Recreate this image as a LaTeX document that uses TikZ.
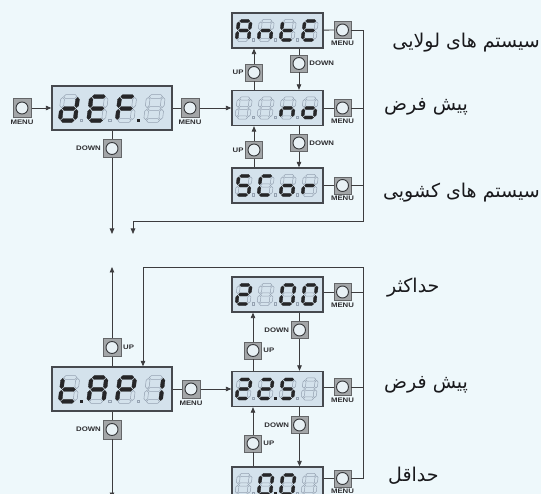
\documentclass[tikz,border=0pt]{standalone}
\usepackage{fontspec}
\setmainfont{Liberation Sans}
\newfontfamily\lblfont[FakeStretch=1.18]{Liberation Sans}
\newfontfamily\arabicfont[Script=Arabic]{DejaVu Sans}
\TeXXeTstate=1
\usetikzlibrary{arrows.meta,calc,positioning}

\definecolor{bgc}{RGB}{238,248,251}
\definecolor{dispfill}{RGB}{212,226,236}
\definecolor{displine}{RGB}{70,73,78}
\definecolor{ghostc}{RGB}{150,163,178}
\definecolor{litc}{RGB}{38,38,40}
\definecolor{btnfill}{RGB}{163,166,168}
\definecolor{btnline}{RGB}{100,102,104}
\definecolor{circfill}{RGB}{232,241,245}
\definecolor{circline}{RGB}{55,57,60}
\definecolor{linec}{RGB}{60,60,62}
\definecolor{lblc}{RGB}{45,45,48}
\definecolor{textc}{RGB}{25,25,28}

\tikzset{
  disp/.style={draw=displine, fill=dispfill, line width=1.3pt, minimum width=91pt, minimum height=35pt, inner sep=0pt},
  bigdisp/.style={disp, minimum width=120pt, minimum height=44pt},
  btn/.style={draw=btnline, fill=btnfill, line width=0.5pt, minimum size=17pt, inner sep=0pt,
    path picture={\draw[draw=circline, fill=circfill, line width=0.9pt] (path picture bounding box.center) circle (6pt);}},
  bigbtn/.style={btn, minimum size=18.5pt},
  lbl/.style={font=\lblfont\bfseries\fontsize{6.6}{7}\selectfont, text=lblc, inner sep=0pt},
  conn/.style={draw=linec, line width=0.8pt},
  arr/.style={conn, -{Triangle[length=5.5pt,width=4.5pt]}},
  per/.style={font=\arabicfont\fontsize{19}{21}\selectfont, text=textc, inner sep=0pt},
  ghostseg/.style={draw=ghostc, line width=0.5pt, line join=miter},
  litseg/.style={fill=litc, draw=litc, line width=0.3pt, line join=miter},
  curseg/.style={ghostseg},
}

\makeatletter
% seven segment digit: #1 x-left, #2 y-bottom, #3 width, #4 height, #5 lit segments, #6 thickness
\newcommand\sevdigit[6]{%
  \begin{scope}[shift={(#1,#2)}, y={(0pt,1pt)}, xslant=0.12]
    \pgfmathsetmacro\sdw{#3}\pgfmathsetmacro\sdh{#4}\pgfmathsetmacro\sdm{#4/2}%
    \pgfmathsetmacro\sht{#6/2}\def\sgap{0.9}%
    \foreach \s/\k/\u/\v/\z in {a/0/\sgap/\sdw-\sgap/\sdh, b/1/\sdm+\sgap/\sdh-\sgap/\sdw,
        c/1/\sgap/\sdm-\sgap/\sdw, d/0/\sgap/\sdw-\sgap/0, e/1/\sgap/\sdm-\sgap/0,
        f/1/\sdm+\sgap/\sdh-\sgap/0, g/0/\sgap/\sdw-\sgap/\sdm}{%
      \expandafter\in@\expandafter{\s}{#5}%
      \ifin@\tikzset{curseg/.style={litseg}}\else\tikzset{curseg/.style={ghostseg}}\fi
      \ifnum\k=0
        \path[curseg] ({\u},{\z}) -- ({\u+\sht},{\z+\sht}) -- ({\v-\sht},{\z+\sht}) -- ({\v},{\z})
          -- ({\v-\sht},{\z-\sht}) -- ({\u+\sht},{\z-\sht}) -- cycle;
      \else
        \path[curseg] ({\z},{\u}) -- ({\z+\sht},{\u+\sht}) -- ({\z+\sht},{\v-\sht}) -- ({\z},{\v})
          -- ({\z-\sht},{\v-\sht}) -- ({\z-\sht},{\u+\sht}) -- cycle;
      \fi
    }%
  \end{scope}}
\makeatother

% decimal point: #1 x, #2 y-bottom, #3 lit (1/0)
\newcommand\decpt[3]{%
  \ifnum#3=1 \fill[litc] (#1,{#2+1.7}) rectangle ++(3.4,-3.4);%
  \else \draw[ghostc, line width=0.5pt] (#1,{#2+1.2}) rectangle ++(2.6,-2.6);\fi}

% small display digits: #1 center y, #2-#5 segments, #6-#8 dots
\newcommand\rdigits[8]{%
  \sevdigit{236.5}{#1+9.5}{12}{19}{#2}{3.1}\sevdigit{258.5}{#1+9.5}{12}{19}{#3}{3.1}%
  \sevdigit{280.5}{#1+9.5}{12}{19}{#4}{3.1}\sevdigit{302.5}{#1+9.5}{12}{19}{#5}{3.1}%
  \decpt{252}{#1+9.5}{#6}\decpt{274}{#1+9.5}{#7}\decpt{296}{#1+9.5}{#8}}

% big display digits
\newcommand\ldigits[8]{%
  \sevdigit{60}{#1+12.5}{15}{24}{#2}{3.8}\sevdigit{88.5}{#1+12.5}{15}{24}{#3}{3.8}%
  \sevdigit{117}{#1+12.5}{15}{24}{#4}{3.8}\sevdigit{145.5}{#1+12.5}{15}{24}{#5}{3.8}%
  \decpt{80}{#1+12.5}{#6}\decpt{108.5}{#1+12.5}{#7}\decpt{137}{#1+12.5}{#8}}

\begin{document}
\begin{tikzpicture}[x=1pt,y=-1pt]
\useasboundingbox (0,0) rectangle (541,494);
\fill[bgc] (0,0) rectangle (541,494);
\clip (0,0) rectangle (541,494);

% ---------------- top section ----------------
\node[bigdisp] (dispDef) at (112,108) {};
\node[disp] (dispAnte) at (277.5,30.5) {};
\node[disp] (dispNo) at (277.5,108) {};
\node[disp] (dispScor) at (277.5,185.5) {};

\ldigits{108}{b,c,d,e,g}{a,d,e,f,g}{a,e,f,g}{}{0}{0}{1}
\rdigits{30.5}{a,b,c,e,f,g}{c,e,g}{d,e,f,g}{a,d,e,f,g}{0}{0}{0}
\rdigits{108}{}{}{c,e,g}{c,d,e,g}{0}{0}{0}
\rdigits{185.5}{a,c,d,f,g}{a,d,e,f}{c,d,e,g}{e,g}{0}{0}{0}

\node[bigbtn] (bMenu0) at (22,108) {};
\node[bigbtn] (bMenu1) at (190,108) {};
\node[bigbtn] (bDown0) at (112,148.5) {};
\node[btn] (bMenuA) at (342.5,30) {};
\node[btn] (bMenuN) at (342.5,108) {};
\node[btn] (bMenuS) at (342.5,185.5) {};
\node[btn] (bUp1) at (254,72.5) {};
\node[btn] (bDown1) at (299,63.5) {};
\node[btn] (bUp2) at (254,150) {};
\node[btn] (bDown2) at (299,143) {};

\node[lbl, below=2.5pt of bMenu0] (lMenu0) {MENU};
\node[lbl, below=2.5pt of bMenu1] (lMenu1) {MENU};
\node[lbl, left=1.5pt of bDown0] (lDown0) {DOWN};
\node[lbl, below=2pt of bMenuA] (lMenuA) {MENU};
\node[lbl, below=2pt of bMenuN] (lMenuN) {MENU};
\node[lbl, below=2pt of bMenuS] (lMenuS) {MENU};
\node[lbl, left=1.5pt of bUp1] (lUp1) {UP};
\node[lbl, right=1.5pt of bDown1] (lDown1) {DOWN};
\node[lbl, left=1.5pt of bUp2] (lUp2) {UP};
\node[lbl, right=1.5pt of bDown2] (lDown2) {DOWN};

\coordinate (endA) at (112,234);
\coordinate (rtop) at (363,221);
\coordinate (endB) at (133,234);

\draw[arr] (bMenu0) -- (dispDef);
\draw[conn] (dispDef) -- (bMenu1);
\draw[arr] (bMenu1) -- (dispNo);
\draw[conn] (dispDef) -- (bDown0);
\draw[arr] (bDown0) -- (endA);
\draw[conn] (dispAnte) -- (bMenuA);
\draw[conn] (dispNo) -- (bMenuN);
\draw[conn] (dispScor) -- (bMenuS);
\draw[arr] (bMenuA) -| (rtop) -| (endB);
\draw[conn] (bMenuN) -- (bMenuN -| rtop);
\draw[conn] (bMenuS) -- (bMenuS -| rtop);
\draw[conn] (dispNo.north -| bUp1) -- (bUp1);
\draw[arr] (bUp1) -- (dispAnte.south -| bUp1);
\draw[conn] (dispAnte.south -| bDown1) -- (bDown1);
\draw[arr] (bDown1) -- (dispNo.north -| bDown1);
\draw[conn] (dispScor.north -| bUp2) -- (bUp2);
\draw[arr] (bUp2) -- (dispNo.south -| bUp2);
\draw[conn] (dispNo.south -| bDown2) -- (bDown2);
\draw[arr] (bDown2) -- (dispScor.north -| bDown2);

\node[per, anchor=east] (tHinge) at (540,43) {\beginR سیستم های لولایی\endR};
\node[per, anchor=west] (tDef1) at (384,107) {\beginR پیش فرض\endR};
\node[per, anchor=east] (tSlide) at (540,193) {\beginR سیستم های کشویی\endR};

% ---------------- bottom section ----------------
\node[bigdisp] (dispTap) at (112,389) {};
\node[disp] (dispMax) at (277.5,294.5) {};
\node[disp] (dispDef2) at (277.5,389) {};
\node[disp] (dispMin) at (277.5,484.5) {};

\ldigits{389}{d,e,f,g}{a,b,c,e,f,g}{a,b,e,f,g}{b,c}{1}{0}{0}
\rdigits{294.5}{a,b,d,e,g}{}{a,b,c,d,e,f}{a,b,c,d,e,f}{0}{0}{0}
\rdigits{389}{a,b,d,e,g}{a,b,d,e,g}{a,c,d,f,g}{}{0}{1}{0}
\rdigits{484.5}{}{a,b,c,d,e,f}{a,b,c,d,e,f}{}{0}{1}{0}

\node[bigbtn] (bUp0) at (112,347.5) {};
\node[bigbtn] (bDown5) at (112,429.5) {};
\node[bigbtn] (bMenu2) at (191,389) {};
\node[btn] (bMenuMax) at (342.5,292) {};
\node[btn] (bMenuDef) at (342.5,387) {};
\node[btn] (bMenuMin) at (342.5,478.5) {};
\node[btn] (bUp3) at (253,350.5) {};
\node[btn] (bDown3) at (299.5,330) {};
\node[btn] (bUp4) at (253,443.5) {};
\node[btn] (bDown4) at (299.5,425) {};

\node[lbl, right=1.5pt of bUp0] (lUp0) {UP};
\node[lbl, left=1.5pt of bDown5] (lDown5) {DOWN};
\node[lbl, below=2.5pt of bMenu2] (lMenu2) {MENU};
\node[lbl, below=2pt of bMenuMax] (lMenuMax) {MENU};
\node[lbl, below=2pt of bMenuDef] (lMenuDef) {MENU};
\node[lbl, below=2pt of bMenuMin] (lMenuMin) {MENU};
\node[lbl, right=1.5pt of bUp3] (lUp3) {UP};
\node[lbl, left=1.5pt of bDown3] (lDown3) {DOWN};
\node[lbl, right=1.5pt of bUp4] (lUp4) {UP};
\node[lbl, left=1.5pt of bDown4] (lDown4) {DOWN};

\coordinate (upEnd) at (112,267);
\coordinate (downEnd) at (112,498);
\coordinate (rtop2) at (363,267);
\coordinate (loopx) at (143,267);

\draw[conn] (dispTap) -- (bUp0);
\draw[arr] (bUp0) -- (upEnd);
\draw[conn] (dispTap) -- (bDown5);
\draw[arr] (bDown5) -- (downEnd);
\draw[conn] (dispTap) -- (bMenu2);
\draw[arr] (bMenu2) -- (dispDef2);
\draw[conn] (dispMax.east |- bMenuMax) -- (bMenuMax);
\draw[conn] (dispDef2.east |- bMenuDef) -- (bMenuDef);
\draw[conn] (dispMin.east |- bMenuMin) -- (bMenuMin);
\draw[arr] (bMenuMin) -| (rtop2) -| (dispTap.north -| loopx);
\draw[conn] (bMenuMax) -- (bMenuMax -| rtop2);
\draw[conn] (bMenuDef) -- (bMenuDef -| rtop2);
\draw[conn] (dispDef2.north -| bUp3) -- (bUp3);
\draw[arr] (bUp3) -- (dispMax.south -| bUp3);
\draw[conn] (dispMax.south -| bDown3) -- (bDown3);
\draw[arr] (bDown3) -- (dispDef2.north -| bDown3);
\draw[conn] (dispMin.north -| bUp4) -- (bUp4);
\draw[arr] (bUp4) -- (dispDef2.south -| bUp4);
\draw[conn] (dispDef2.south -| bDown4) -- (bDown4);
\draw[arr] (bDown4) -- (dispMin.north -| bDown4);

\node[per, anchor=west] (tMax) at (387,288) {\beginR حداکثر\endR};
\node[per, anchor=west] (tDef2) at (384,385) {\beginR پیش فرض\endR};
\node[per, anchor=west] (tMin) at (388,476) {\beginR حداقل\endR};
\end{tikzpicture}
\end{document}
